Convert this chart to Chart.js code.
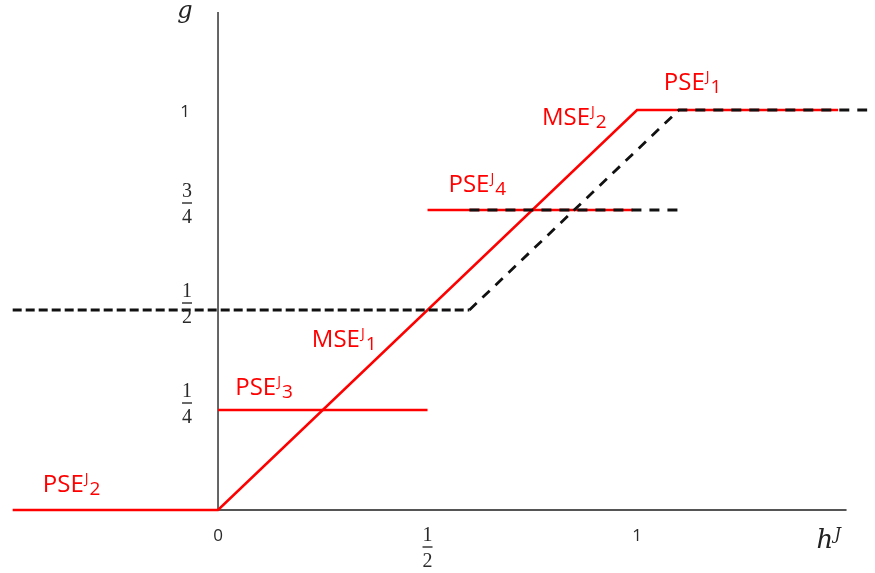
<!DOCTYPE html>
<html>
<head>
<meta charset="utf-8">
<script src="https://cdn.jsdelivr.net/npm/chart.js@4/dist/chart.umd.min.js"></script>
<style>
  html, body { margin: 0; padding: 0; background: #fff; }
  #wrap { width: 875px; height: 573px; }
</style>
</head>
<body>
<div id="wrap"><canvas id="c" width="875" height="573"></canvas></div>
<script>
// Red equilibrium paths (solid)
const pathPse2Mse = [ {x: -0.49, y: 0}, {x: 0, y: 0}, {x: 1, y: 1}, {x: 1.48, y: 1} ];
const pathPse3 = [ {x: 0, y: 0.25}, {x: 0.5, y: 0.25} ];
const pathPse4 = [ {x: 0.5, y: 0.75}, {x: 0.99, y: 0.75} ];

// Black dashed reference paths
const dashLow = [ {x: -0.49, y: 0.5}, {x: 0.6, y: 0.5} ];
const dashUp = [ {x: 0.6, y: 0.5}, {x: 1.1, y: 1}, {x: 1.55, y: 1} ];
const dashMid = [ {x: 0.6, y: 0.75}, {x: 1.1, y: 0.75} ];

// Axis lines
const axisX = [ {x: 0, y: 0}, {x: 1.5, y: 0} ];
const axisY = [ {x: 0, y: 0}, {x: 0, y: 1.245} ];

// Tick values and labels
const xTickValues = [0, 0.5, 1];
const xTickLabels = ['0', '1/2', '1'];
const yTickValues = [0.25, 0.5, 0.75, 1];
const yTickLabels = ['1/4', '1/2', '3/4', '1'];

// Region labels: name, subscript, anchor (data units)
const labelNames = ['PSE', 'PSE', 'MSE', 'PSE', 'MSE', 'PSE'];
const labelSubs = ['2', '3', '1', '4', '2', '1'];
const labelAtX = [-0.418, 0.041, 0.224, 0.55, 0.773, 1.064];
const labelAtY = [0.045, 0.2875, 0.4075, 0.795, 0.9625, 1.05];

const RED = '#ff0000';
const BLACK = '#111111';

function drawFraction(ctx, txt, cx, barY) {
  const [n, d] = txt.split('/');
  ctx.font = '20px "Liberation Serif", serif';
  ctx.textAlign = 'center';
  ctx.textBaseline = 'alphabetic';
  ctx.fillStyle = '#2a2a2a';
  ctx.fillText(n, cx, barY - 6);
  ctx.fillText(d, cx, barY + 20);
  ctx.strokeStyle = '#2a2a2a';
  ctx.lineWidth = 1.4;
  ctx.beginPath();
  ctx.moveTo(cx - 5, barY);
  ctx.lineTo(cx + 5, barY);
  ctx.stroke();
}

function drawPlain(ctx, txt, cx, cy) {
  ctx.font = '17px "Open Sans", sans-serif';
  ctx.textAlign = 'center';
  ctx.textBaseline = 'middle';
  ctx.fillStyle = '#2a2a2a';
  ctx.fillText(txt, cx, cy);
}

const annotate = {
  id: 'annotate',
  afterDatasetsDraw(chart) {
    const ctx = chart.ctx;
    const xs = chart.scales.x, ys = chart.scales.y;
    const x0 = xs.getPixelForValue(0), y0 = ys.getPixelForValue(0);
    ctx.save();

    // y tick labels
    yTickValues.forEach((v, i) => {
      const py = ys.getPixelForValue(v);
      const t = yTickLabels[i];
      if (t.includes('/')) drawFraction(ctx, t, x0 - 31, py - 7);
      else drawPlain(ctx, t, x0 - 33, py + 2);
    });
    // x tick labels
    xTickValues.forEach((v, i) => {
      const px = xs.getPixelForValue(v);
      const t = xTickLabels[i];
      if (t.includes('/')) drawFraction(ctx, t, px, y0 + 37);
      else drawPlain(ctx, t, px, y0 + 26);
    });

    // axis titles
    ctx.fillStyle = '#222';
    ctx.textAlign = 'center';
    ctx.textBaseline = 'alphabetic';
    ctx.font = 'italic 24px "DejaVu Serif", serif';
    ctx.fillText('g', x0 - 33, 18);
    const hx = xs.getPixelForValue(1.5);
    ctx.textAlign = 'left';
    ctx.font = 'italic 26px "DejaVu Serif", serif';
    ctx.fillText('h', hx - 30, y0 + 38);
    ctx.font = 'italic 16px "DejaVu Serif", serif';
    ctx.fillText('J', hx - 12, y0 + 29);

    // red region labels
    ctx.fillStyle = RED;
    ctx.textAlign = 'left';
    labelNames.forEach((name, i) => {
      const px = xs.getPixelForValue(labelAtX[i]);
      const py = ys.getPixelForValue(labelAtY[i]);
      ctx.font = '24px "Open Sans", sans-serif';
      ctx.fillText(name, px, py);
      let w = ctx.measureText(name).width;
      ctx.font = '14px "Open Sans", sans-serif';
      ctx.fillText('J', px + w + 1, py - 9);
      w += ctx.measureText('J').width + 2;
      ctx.font = '19px "Open Sans", sans-serif';
      ctx.fillText(labelSubs[i], px + w, py + 3);
    });
    ctx.restore();
  }
};

const line = (data, color, width, dash, order) => ({
  data, borderColor: color, borderWidth: width, borderDash: dash,
  pointRadius: 0, fill: false, tension: 0, order, borderCapStyle: 'butt'
});

new Chart(document.getElementById('c'), {
  type: 'line',
  data: {
    datasets: [
      line(dashLow, BLACK, 2.8, [9, 4], 0),
      line(dashUp, BLACK, 2.8, [10, 8], 0),
      line(dashMid, BLACK, 2.8, [10, 8], 0),
      line(pathPse2Mse, RED, 2.6, [], 1),
      line(pathPse3, RED, 2.6, [], 1),
      line(pathPse4, RED, 2.6, [], 1),
      line(axisX, '#555555', 2, [], 2),
      line(axisY, '#333333', 1.5, [], 2)
    ]
  },
  options: {
    responsive: false,
    animation: false,
    parsing: true,
    layout: { padding: { left: 8.5, right: 7.5, top: 10, bottom: 3 } },
    plugins: { legend: { display: false }, tooltip: { enabled: false } },
    scales: {
      x: { type: 'linear', min: -0.5, max: 1.55, display: false },
      y: { type: 'linear', min: -0.15, max: 1.25, display: false }
    }
  },
  plugins: [annotate]
});
</script>
</body>
</html>
